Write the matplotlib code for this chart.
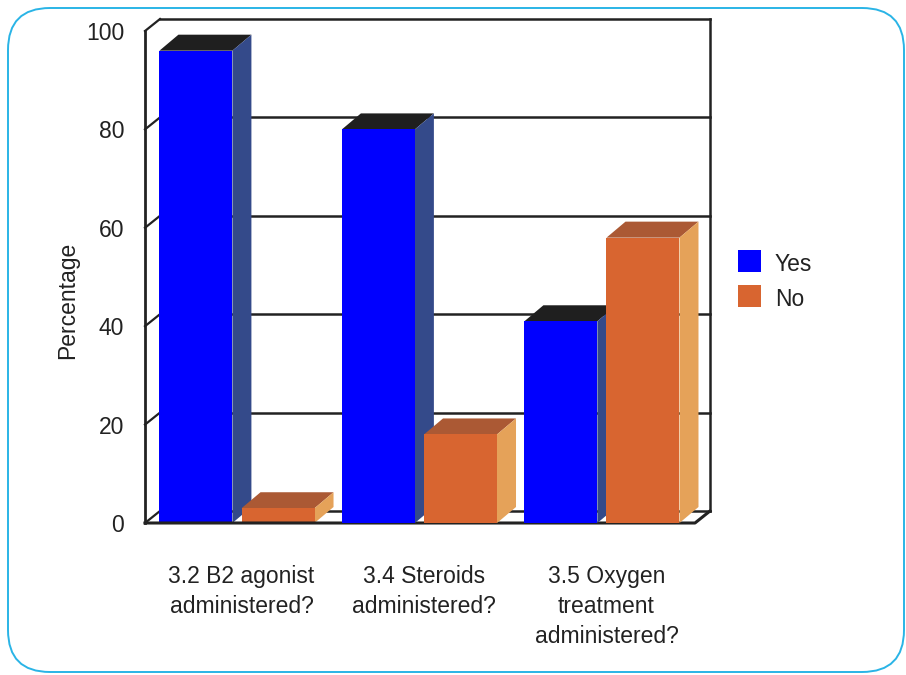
import numpy as np
import matplotlib.pyplot as plt
from matplotlib.patches import Polygon, Rectangle, FancyBboxPatch

categories = ["3.2 B2 agonist\nadministered?", "3.4 Steroids\nadministered?", "3.5 Oxygen\ntreatment\nadministered?"]
yes_vals = [96, 80, 41]
no_vals = [3, 18, 58]
yticks = [0, 20, 40, 60, 80, 100]

plt.rcParams['font.family'] = ['Liberation Sans', 'DejaVu Sans']
ink = "#222222"
fs = 16.5

W, H = 906, 675
fig = plt.figure(figsize=(W / 100, H / 100), dpi=100)

# rounded border around the whole slide
bg = fig.add_axes([0, 0, 1, 1])
bg.set_xlim(0, W)
bg.set_ylim(H, 0)
bg.axis("off")
bg.add_patch(FancyBboxPatch((8, 8), 896, 664, boxstyle="round,pad=0,rounding_size=42",
                            fc="white", ec="#2ab4e6", lw=1.4))

# front plane of the 3d box, in pixels
x_left, x_right, y_floor, y_top = 145, 695, 523, 31
ax = fig.add_axes([x_left / W, (H - y_floor) / H, (x_right - x_left) / W, (y_floor - y_top) / H])
ax.set_facecolor("none")
x = np.arange(len(categories))
ax.set_xlim(-0.504, 2.51)
ax.set_ylim(0, 100)
for s in ax.spines.values():
    s.set_visible(False)

# pixel -> data conversion for the oblique depth
px_x = (x_right - x_left) / (2.51 + 0.504)
px_y = (y_floor - y_top) / 100
wall_dx, wall_dy = 15 / px_x, 12 / px_y
bar_dx, bar_dy = 19 / px_x, 16 / px_y
x0, x1 = ax.get_xlim()

# back wall gridlines with the little diagonal connectors
for v in yticks:
    ax.plot([x0 + wall_dx, x1 + wall_dx], [v + wall_dy, v + wall_dy], color=ink, lw=1.8, clip_on=False, zorder=1)
    ax.plot([x0, x0 + wall_dx], [v, v + wall_dy], color=ink, lw=1.6, clip_on=False, zorder=1)
ax.plot([x1 + wall_dx, x1 + wall_dx], [wall_dy, 100 + wall_dy], color=ink, lw=1.8, clip_on=False, zorder=1)
ax.plot([x0, x1, x1 + wall_dx], [0, 0, wall_dy], color=ink, lw=2.2, clip_on=False, zorder=5)
ax.plot([x0, x0], [0, 100], color=ink, lw=2.0, clip_on=False, zorder=5)


def bar3d(left, width, h, front, top, side, z):
    right = left + width
    ax.add_patch(Polygon([(left, h), (right, h), (right + bar_dx, h + bar_dy), (left + bar_dx, h + bar_dy)],
                         closed=True, fc=top, ec="none", clip_on=False, zorder=z))
    ax.add_patch(Polygon([(right, 0), (right, h), (right + bar_dx, h + bar_dy), (right + bar_dx, bar_dy)],
                         closed=True, fc=side, ec="none", clip_on=False, zorder=z))
    ax.add_patch(Rectangle((left, 0), width, h, fc=front, ec="none", clip_on=False, zorder=z))


bw = 0.40
for i in range(len(categories)):
    bar3d(x[i] - 0.425, bw, yes_vals[i], "#0000ff", "#1f1f1f", "#344a8a", 3 + 2 * i)
    bar3d(x[i] + 0.025, bw, no_vals[i], "#d86530", "#ab5934", "#e5a259", 4 + 2 * i)

ax.set_yticks(yticks)
ax.set_yticklabels([str(v) for v in yticks], fontsize=fs, color=ink)
ax.set_xticks(x + 0.025)
ax.set_xticklabels(categories, fontsize=fs, color=ink, linespacing=1.4)
ax.tick_params(axis="y", length=0, pad=15)
ax.tick_params(axis="x", length=0, pad=30)

fig.text(68 / W, 1 - 300 / H, "Percentage", rotation=90, ha="center", va="center", fontsize=fs, color=ink)

# legend
for k, (lab, col) in enumerate([("Yes", "#0000ff"), ("No", "#d86530")]):
    yc = 261 + 35 * k
    fig.add_artist(Rectangle((738 / W, 1 - (yc + 11) / H), 23 / W, 22 / H, fc=col, ec="none",
                             transform=fig.transFigure))
    fig.text(775 / W, 1 - (yc + 3) / H, lab, ha="left", va="center", fontsize=fs, color=ink)

fig.savefig("out.png", dpi=100)
